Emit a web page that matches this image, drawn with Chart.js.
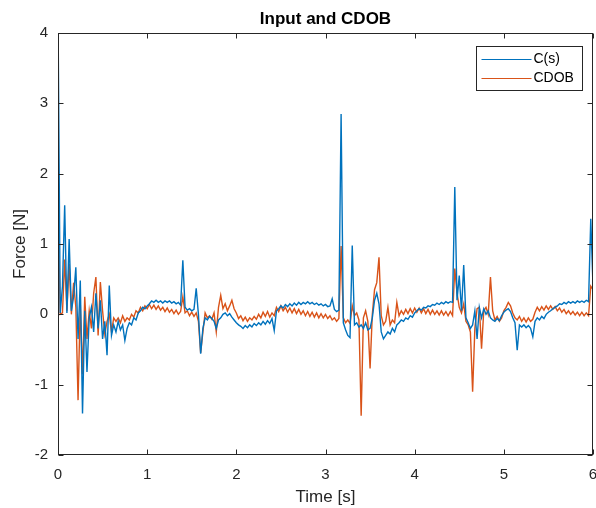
<!DOCTYPE html>
<html>
<head>
<meta charset="utf-8">
<title>Input and CDOB</title>
<script src="https://cdn.jsdelivr.net/npm/chart.js@4/dist/chart.umd.min.js"></script>
<style>
  html, body { margin: 0; padding: 0; background: #fff; }
  canvas { display: block; }
</style>
</head>
<body>
<canvas id="force-chart" width="596" height="508"></canvas>
<script>
// samples are logged every 25 ms from 0 to 6 s
const sampleStep = 0.025;

const xTicks = [0, 1, 2, 3, 4, 5, 6];
const yTicks = [-2, -1, 0, 1, 2, 3, 4];

// input force C(s) [N], one row per 0.25 s
const csForce = [
  4.30, 0.02, 0.40, 1.55, 0.02, 1.07, 0.05, 0.25, 0.67, -0.35,
  0.48, -1.41, 0.05, -0.82, -0.05, 0.10, -0.25, 0.30, -0.20, 0.20,
  -0.35, -0.10, -0.58, 0.41, -0.30, -0.15, -0.25, -0.10, -0.22, -0.15,
  -0.37, -0.20, -0.12, -0.15, -0.05, -0.08, 0.02, 0.05, 0.10, 0.08,
  0.12, 0.15, 0.19, 0.17, 0.20, 0.17, 0.19, 0.16, 0.19, 0.17,
  0.19, 0.16, 0.18, 0.15, 0.17, 0.13, 0.77, 0.10, 0.06, 0.08,
  0.05, 0.07, 0.37, 0.00, -0.56, -0.20, -0.05, -0.08, -0.03, -0.06,
  -0.10, -0.20, -0.08, -0.05, 0.00, 0.02, -0.02, 0.01, -0.04, -0.08,
  -0.12, -0.15, -0.17, -0.20, -0.16, -0.19, -0.15, -0.18, -0.13, -0.16,
  -0.12, -0.15, -0.10, -0.14, -0.09, -0.13, -0.06, -0.23, 0.05, 0.08,
  0.12, 0.09, 0.14, 0.11, 0.15, 0.12, 0.16, 0.13, 0.17, 0.14,
  0.17, 0.15, 0.18, 0.15, 0.17, 0.14, 0.16, 0.13, 0.15, 0.12,
  0.14, 0.11, 0.12, 0.22, 0.07, 0.04, 0.06, 2.85, -0.12, -0.22,
  -0.30, -0.33, 0.98, -0.15, -0.12, -0.18, -0.15, -0.20, -0.12, -0.22,
  -0.20, -0.05, 0.20, 0.30, 0.15, -0.25, -0.35, -0.30, -0.25, -0.28,
  -0.20, -0.25, -0.15, -0.12, -0.08, -0.10, -0.05, -0.07, -0.02, -0.04,
  0.02, 0.05, 0.08, 0.06, 0.10, 0.09, 0.12, 0.11, 0.14, 0.13,
  0.16, 0.14, 0.17, 0.15, 0.18, 0.16, 0.18, 0.17, 1.81, 0.20,
  0.55, 0.05, 0.70, -0.05, -0.12, -0.20, -0.15, 0.05, -0.35, 0.10,
  -0.05, 0.08, 0.00, 0.05, -0.05, -0.08, -0.10, -0.06, -0.09, -0.02,
  0.03, 0.06, 0.08, 0.04, -0.05, -0.12, -0.51, -0.15, -0.18, -0.15,
  -0.19, -0.16, -0.20, -0.32, -0.10, -0.05, -0.08, -0.03, -0.06, 0.00,
  0.03, 0.05, 0.08, 0.10, 0.12, 0.15, 0.14, 0.17, 0.15, 0.18,
  0.16, 0.18, 0.16, 0.19, 0.17, 0.19, 0.17, 0.20, 0.18, 1.36,
  0.40,
];

// observer estimate CDOB [N], same sampling
const cdobForce = [
  1.52, 0.00, 0.02, 0.78, 0.05, 0.72, 0.00, 0.45, 0.10, -1.22,
  0.15, -0.85, 0.25, -0.35, 0.05, -0.20, 0.30, 0.53, -0.30, 0.46,
  0.05, -0.28, -0.10, 0.00, -0.25, -0.05, -0.10, -0.05, -0.12, -0.02,
  -0.10, -0.05, -0.08, 0.00, -0.04, 0.05, 0.02, 0.10, 0.05, 0.12,
  0.08, 0.14, 0.08, 0.13, 0.07, 0.12, 0.06, 0.10, 0.04, 0.09,
  0.03, 0.07, 0.01, 0.06, 0.00, 0.04, 0.25, 0.02, 0.05, -0.02,
  0.03, -0.03, 0.02, -0.10, -0.55, -0.25, 0.02, -0.05, -0.02, -0.07,
  0.02, -0.25, 0.10, 0.27, 0.08, 0.15, 0.05, 0.12, 0.20, 0.08,
  0.02, -0.06, -0.02, -0.09, -0.04, -0.10, -0.05, -0.08, -0.03, -0.07,
  0.00, -0.05, 0.03, -0.03, 0.04, -0.04, 0.02, -0.02, 0.10, 0.04,
  0.12, 0.05, 0.10, 0.03, 0.09, 0.02, 0.08, 0.01, 0.07, 0.00,
  0.05, -0.02, 0.04, -0.03, 0.03, -0.04, 0.02, -0.05, 0.01, -0.05,
  0.00, -0.06, -0.02, -0.08, -0.05, -0.10, -0.06, 0.97, -0.05, -0.12,
  -0.08, -0.13, 0.12, -0.02, 0.02, -0.08, -1.44, -0.05, 0.05, -0.10,
  -0.77, 0.00, 0.35, 0.45, 0.81, -0.02, -0.15, -0.10, 0.10, -0.15,
  -0.08, -0.12, 0.17, -0.02, 0.05, 0.00, 0.07, 0.01, 0.08, 0.02,
  0.09, 0.03, 0.09, 0.02, 0.08, 0.01, 0.07, 0.00, 0.06, 0.00,
  0.05, -0.01, 0.05, -0.01, 0.04, -0.02, 0.04, -0.02, 0.65, 0.30,
  0.10, 0.02, 0.15, -0.10, -0.15, -0.25, -1.10, -0.20, 0.08, 0.10,
  -0.49, 0.05, 0.10, 0.00, 0.53, 0.05, -0.08, -0.03, -0.10, -0.05,
  0.05, 0.10, 0.17, 0.12, 0.02, -0.05, -0.08, -0.03, -0.10, -0.05,
  -0.11, -0.05, -0.10, -0.07, 0.03, 0.10, 0.05, 0.11, 0.06, 0.12,
  0.07, 0.12, 0.07, 0.11, 0.05, 0.09, 0.03, 0.07, 0.01, 0.05,
  0.00, 0.04, -0.01, 0.03, -0.02, 0.03, -0.02, 0.02, -0.02, 0.40,
  0.35,
];

const seriesLabels = ["C(s)", "CDOB"];
const seriesColors = ["#0072BD", "#D95319"];

const FONT = "'Liberation Sans', Arial, Helvetica, sans-serif";
const AXIS_COLOR = "#262626";
const TICK_LEN = 5;

function toPoints(values) {
  return values.map((y, i) => ({ x: +(i * sampleStep).toFixed(3), y }));
}

// box around the axes, inward ticks on all four sides, title and legend
const matlabFrame = {
  id: "matlabFrame",
  afterDatasetsDraw(chart) {
    const { ctx, chartArea, scales } = chart;
    const left = Math.round(chartArea.left) + 0.5;
    const right = Math.round(chartArea.right) - 0.5;
    const top = Math.round(chartArea.top) + 0.5;
    const bottom = Math.round(chartArea.bottom) - 0.5;

    ctx.save();
    ctx.strokeStyle = AXIS_COLOR;
    ctx.lineWidth = 1;
    ctx.strokeRect(left, top, right - left, bottom - top);

    ctx.beginPath();
    xTicks.forEach((v) => {
      const px = Math.round(scales.x.getPixelForValue(v)) + 0.5;
      ctx.moveTo(px, bottom);
      ctx.lineTo(px, bottom - TICK_LEN);
      ctx.moveTo(px, top);
      ctx.lineTo(px, top + TICK_LEN);
    });
    yTicks.forEach((v) => {
      const py = Math.round(scales.y.getPixelForValue(v)) + 0.5;
      ctx.moveTo(left, py);
      ctx.lineTo(left + TICK_LEN, py);
      ctx.moveTo(right, py);
      ctx.lineTo(right - TICK_LEN, py);
    });
    ctx.stroke();

    // title
    ctx.fillStyle = "#000";
    ctx.font = "bold 17px " + FONT;
    ctx.textAlign = "center";
    ctx.textBaseline = "middle";
    ctx.fillText("Input and CDOB", (chartArea.left + chartArea.right) / 2, 19);

    // legend
    const boxW = 106;
    const boxH = 44;
    const boxX = Math.round(chartArea.right) - 11 - boxW + 0.5;
    const boxY = Math.round(chartArea.top) + 13 + 0.5;
    ctx.fillStyle = "#fff";
    ctx.fillRect(boxX, boxY, boxW, boxH);
    ctx.strokeStyle = AXIS_COLOR;
    ctx.strokeRect(boxX, boxY, boxW, boxH);

    ctx.font = "14px " + FONT;
    ctx.textAlign = "left";
    chart.data.datasets.forEach((ds, i) => {
      const rowY = boxY + 13 + i * 19;
      ctx.strokeStyle = ds.borderColor;
      ctx.lineWidth = 1.2;
      ctx.beginPath();
      ctx.moveTo(boxX + 5, rowY);
      ctx.lineTo(boxX + 55, rowY);
      ctx.stroke();
      ctx.fillStyle = "#000";
      ctx.fillText(ds.label, boxX + 57, rowY);
    });
    ctx.restore();
  },
};

const ctx = document.getElementById("force-chart").getContext("2d");

new Chart(ctx, {
  type: "line",
  data: {
    datasets: [
      {
        label: seriesLabels[0],
        data: toPoints(csForce),
        borderColor: seriesColors[0],
        borderWidth: 1.4,
        pointRadius: 0,
        tension: 0,
        fill: false,
      },
      {
        label: seriesLabels[1],
        data: toPoints(cdobForce),
        borderColor: seriesColors[1],
        borderWidth: 1.4,
        pointRadius: 0,
        tension: 0,
        fill: false,
      },
    ],
  },
  options: {
    responsive: false,
    animation: false,
    events: [],
    layout: {
      padding: { top: 33, right: 3, bottom: 0, left: 0 },
    },
    plugins: {
      legend: { display: false },
      title: { display: false },
      tooltip: { enabled: false },
    },
    scales: {
      x: {
        type: "linear",
        min: 0,
        max: 6,
        afterBuildTicks: (scale) => {
          scale.ticks = xTicks.map((v) => ({ value: v }));
        },
        ticks: {
          padding: 11,
          color: AXIS_COLOR,
          font: { family: FONT, size: 15 },
        },
        grid: { display: false, drawTicks: false },
        border: { display: false },
        title: {
          display: true,
          text: "Time [s]",
          color: AXIS_COLOR,
          font: { family: FONT, size: 17 },
          padding: { top: 0, bottom: 0 },
        },
        afterFit: (scale) => {
          scale.height = 53;
          scale.paddingLeft = 0;
          scale.paddingRight = 0;
        },
      },
      y: {
        type: "linear",
        min: -2,
        max: 4,
        afterBuildTicks: (scale) => {
          scale.ticks = yTicks.map((v) => ({ value: v }));
        },
        ticks: {
          padding: 10,
          color: AXIS_COLOR,
          font: { family: FONT, size: 15 },
        },
        grid: { display: false, drawTicks: false },
        border: { display: false },
        title: {
          display: true,
          text: "Force [N]",
          color: AXIS_COLOR,
          font: { family: FONT, size: 17 },
          padding: { top: 10, bottom: 0 },
        },
        afterFit: (scale) => {
          scale.width = 58;
          scale.paddingTop = 0;
          scale.paddingBottom = 0;
        },
      },
    },
  },
  plugins: [matlabFrame],
});
</script>
</body>
</html>
